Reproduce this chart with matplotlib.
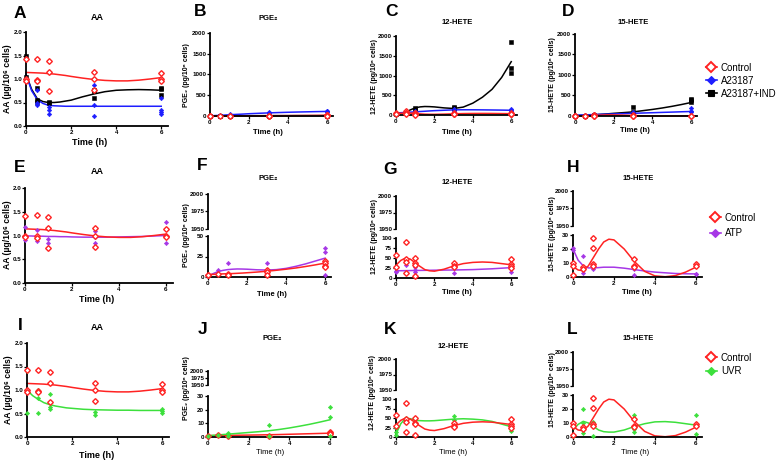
import matplotlib
matplotlib.use('Agg')
import matplotlib.pyplot as plt
from matplotlib.lines import Line2D
from matplotlib.ticker import FormatStrFormatter

plt.rcParams['font.family'] = ['Liberation Sans', 'DejaVu Sans']

W, H = 780, 463

# ---- data ----
# time grid at which the fitted curves were read
T = [0, 0.25, 0.5, 0.75, 1, 1.25, 1.5, 1.75, 2, 2.5, 3, 3.5, 4, 4.5, 5, 5.5, 6]

# AA (ug/10^6 cells)
aa_ctrl_t = [0, 0, 0, 0.5, 0.5, 0.5, 1, 1, 1, 3, 3, 3, 6, 6, 6]
aa_ctrl_v = [1.42, 1.0, 0.96, 1.43, 0.98, 0.95, 1.38, 1.15, 0.74, 1.15, 1.0, 0.76, 1.13, 0.99, 0.96]
aa_ctrl_fit = [1.14, 1.135, 1.13, 1.125, 1.115, 1.105, 1.09, 1.075, 1.055, 1.02, 0.99, 0.97, 0.96, 0.96, 0.975, 1.0, 1.03]
aa_a23_t = [0, 0.5, 0.5, 0.5, 1, 1, 1, 3, 3, 3, 6, 6, 6, 6]
aa_a23_v = [1.0, 0.76, 0.5, 0.44, 0.4, 0.35, 0.25, 0.87, 0.44, 0.21, 0.59, 0.33, 0.29, 0.25]
aa_a23_fit = [1.1, 0.75, 0.56, 0.48, 0.44, 0.43, 0.425, 0.42, 0.42, 0.42, 0.42, 0.42, 0.42, 0.42, 0.42, 0.42, 0.42]
aa_ind_t = [0, 0, 0.5, 0.5, 0.5, 1, 1, 3, 3, 3, 6, 6, 6]
aa_ind_v = [1.5, 1.05, 0.8, 0.55, 0.52, 0.51, 0.49, 0.77, 0.74, 0.6, 0.8, 0.78, 0.67]
aa_ind_fit = [1.1, 0.78, 0.58, 0.52, 0.5, 0.5, 0.51, 0.53, 0.55, 0.62, 0.68, 0.73, 0.76, 0.77, 0.775, 0.77, 0.76]
aa_atp_t = [0, 0, 0, 0.5, 0.5, 0.5, 1, 1, 3, 3, 3, 6, 6, 6]
aa_atp_v = [1.17, 1.0, 0.9, 1.12, 0.95, 0.88, 0.93, 0.84, 1.1, 0.96, 0.85, 1.28, 1.0, 0.85]
aa_atp_fit = [0.99, 0.99, 0.985, 0.985, 0.98, 0.98, 0.975, 0.975, 0.97, 0.965, 0.965, 0.965, 0.97, 0.975, 0.98, 0.99, 1.0]
aa_uvr_t = [0, 0, 0, 0.5, 0.5, 0.5, 1, 1, 1, 3, 3, 3, 6, 6, 6]
aa_uvr_v = [1.41, 1.0, 0.51, 1.0, 0.84, 0.52, 0.91, 0.63, 0.59, 0.77, 0.54, 0.47, 0.6, 0.56, 0.51]
aa_uvr_fit = [1.0, 0.88, 0.8, 0.73, 0.69, 0.66, 0.64, 0.62, 0.61, 0.59, 0.58, 0.575, 0.57, 0.57, 0.565, 0.565, 0.565]

# PGE2 (pg/10^6 cells)
pge_ctrl_t = [0, 0, 0.5, 1, 1, 3, 3, 3, 6, 6, 6, 6]
pge_ctrl_v = [3, 2, 4, 4, 3, 8, 6, 3, 20, 17, 13, 12]
pge_ctrl_fit = [3, 3.2, 3.5, 3.8, 4, 4.2, 4.5, 4.8, 5.2, 6, 7, 8.2, 9.5, 11, 12.8, 14.8, 17]
pge_a23_t = [0, 0.5, 1, 1, 3, 3, 6, 6, 6]
pge_a23_v = [5, 15, 40, 25, 90, 70, 130, 110, 90]
pge_a23_fit = [5, 10, 15, 22, 30, 36, 42, 48, 55, 65, 75, 83, 90, 96, 101, 106, 110]
pge_ind_t = [0, 0.5, 1, 3, 6]
pge_ind_v = [5, 5, 10, 8, 10]
pge_ind_fit = [5, 5, 5, 5, 6, 6, 6, 6, 7, 7, 8, 8, 8, 9, 9, 9, 10]
pge_atp_t = [0, 0.5, 1, 3, 6, 6, 6, 6]
pge_atp_v = [1, 8, 17, 17, 35, 30, 20, 3]
pge_atp_fit = [1, 4, 6.5, 8, 9, 9.5, 9.8, 9.7, 9.5, 8.8, 8.5, 9, 10.5, 13, 16, 19.5, 23]
pge_ctrl2_t = [0, 0.5, 1, 3, 6, 6, 6]
pge_ctrl2_v = [1, 1.5, 1, 1, 4, 3, 2]
pge_ctrl2_fit = [1.0, 1.05, 1.1, 1.15, 1.2, 1.25, 1.3, 1.35, 1.4, 1.5, 1.65, 1.8, 2.0, 2.2, 2.4, 2.6, 2.8]
pge_uvr_t = [0, 0.5, 1, 1, 1, 3, 3, 6, 6, 6]
pge_uvr_v = [1, 1.5, 3, 2, 1, 8.5, 1, 22, 15, 1]
pge_uvr_fit = [1, 1.2, 1.5, 1.8, 2.1, 2.4, 2.7, 3, 3.3, 3.9, 4.6, 5.5, 6.6, 7.9, 9.3, 10.9, 12.6]

# 12-HETE (pg/10^6 cells)
h12_ctrl_t = [0, 0, 0.5, 0.5, 0.5, 0.5, 1, 1, 1, 1, 3, 3, 3, 6, 6, 6, 6]
h12_ctrl_v = [58, 28, 90, 47, 40, 13, 50, 38, 33, 5, 38, 30, 27, 47, 35, 30, 25]
h12_ctrl_fit = [32, 44, 50, 47, 38, 29, 21, 18, 17, 22, 30, 36, 39, 40, 39, 36, 33]
h12_a23_t = [0, 0.5, 1, 1, 3, 3, 6, 6, 6]
h12_a23_v = [50, 60, 100, 60, 140, 110, 160, 120, 100]
h12_a23_fit = [50, 58, 65, 72, 80, 88, 95, 103, 110, 120, 130, 132, 132, 130, 127, 124, 120]
h12_ind_t = [0, 0.5, 0.5, 1, 1, 3, 3, 6, 6, 6]
h12_ind_v = [30, 60, 40, 170, 125, 210, 165, 1850, 1180, 1060]
h12_ind_fit = [30, 40, 70, 130, 180, 205, 215, 212, 205, 180, 165, 200, 300, 450, 650, 950, 1350]
h12_atp_t = [0, 0, 0.5, 0.5, 0.5, 1, 1, 1, 3, 6, 6, 6]
h12_atp_v = [18, 15, 33, 15, 12, 28, 20, 15, 13, 33, 25, 15]
h12_atp_fit = [18, 18.2, 18.4, 18.6, 18.8, 19, 19.2, 19.3, 19.5, 19.8, 20, 20.5, 21, 22, 23, 24.5, 26]
h12_uvr_t = [0, 0, 0, 0.5, 0.5, 1, 1, 1, 3, 3, 3, 6, 6, 6]
h12_uvr_v = [24, 13, 4, 51, 44, 51, 47, 40, 55, 44, 27, 34, 22, 15]
h12_uvr_fit = [8, 35, 50, 48, 44, 43, 42.5, 42.5, 43, 45, 47, 48, 47, 45, 41, 34, 27]

# 15-HETE (pg/10^6 cells)
h15_ctrl_t = [0, 0, 0, 0.5, 0.5, 1, 1, 1, 1, 3, 3, 3, 6, 6]
h15_ctrl_v = [10, 8, 1.5, 7, 6, 28, 21, 9, 8, 13, 8, 7, 9, 8]
h15_ctrl_fit = [7.5, 5, 4.5, 8, 14, 20, 25, 27, 26.5, 20, 11, 4, 0.8, 0.2, 1, 3.5, 7]
h15_a23_t = [0, 0.5, 1, 3, 3, 6, 6, 6]
h15_a23_v = [20, 30, 40, 100, 60, 200, 120, 100]
h15_a23_fit = [20, 24, 28, 31, 35, 39, 43, 46, 50, 58, 65, 73, 80, 88, 95, 103, 110]
h15_ind_t = [0, 0.5, 1, 3, 3, 6, 6, 6]
h15_ind_v = [10, 10, 30, 230, 100, 420, 380, 340]
h15_ind_fit = [5, 10, 15, 22, 30, 38, 46, 55, 65, 82, 100, 130, 160, 195, 235, 280, 330]
h15_atp_t = [0, 0, 0.5, 0.5, 0.5, 1, 1, 1, 3, 3, 6, 6]
h15_atp_v = [21, 19, 15, 5, 3, 8, 7, 6, 6, 1.5, 2.5, 2]
h15_atp_fit = [20, 12, 8, 6.5, 6.5, 6.7, 7, 7, 7, 6.3, 5.3, 4.3, 3.5, 3, 2.5, 2.3, 2.2]
h15_uvr_t = [0, 0, 0.5, 0.5, 0.5, 1, 1, 1, 3, 3, 3, 6, 6, 6]
h15_uvr_v = [8, 0.5, 20, 10, 3, 11, 9, 0.5, 16, 6, 3.6, 15.6, 7.7, 2]
h15_uvr_fit = [5, 9, 11.2, 10, 7.5, 5, 3.8, 3.5, 3.5, 5, 7.5, 9.5, 10.8, 11, 10.5, 9.5, 8.5]

# ---- styles ----
RED, BLUE, BLACK, PURPLE, GREEN = '#FF2222', '#1E1EFF', '#000000', '#A637E6', '#3CE03C'
STY = {
    'ctrl': dict(color=RED, marker='D', ms=2.9, mfc='white', mew=1.0),
    'a23': dict(color=BLUE, marker='D', ms=2.3, mew=0.4),
    'ind': dict(color=BLACK, marker='s', ms=2.4, mew=0.4),
    'atp': dict(color=PURPLE, marker='D', ms=2.2, mew=0.4),
    'uvr': dict(color=GREEN, marker='D', ms=2.2, mew=0.4),
}

fig = plt.figure(figsize=(W / 100, H / 100), dpi=100)


def px_axes(x0, y0, x1, y1):
    return fig.add_axes([x0 / W, 1 - y1 / H, (x1 - x0) / W, (y1 - y0) / H])


def style(ax, xaxis=True):
    for s in ['top', 'right']:
        ax.spines[s].set_visible(False)
    ax.spines['left'].set_linewidth(1.3)
    ax.spines['bottom'].set_linewidth(1.3)
    ax.tick_params(direction='out', length=2.0, width=0.9, labelsize=4.5, pad=0.8)
    for lab in ax.get_xticklabels() + ax.get_yticklabels():
        lab.set_fontweight('bold')
    ax.set_xlim(0, 6.3)
    ax.set_xticks([0, 2, 4, 6])
    if not xaxis:
        ax.spines['bottom'].set_visible(False)
        ax.tick_params(axis='x', bottom=False, labelbottom=False)
    ax.patch.set_alpha(0)


def series(ax, key, t, v, fit, zo=2):
    st = STY[key]
    ax.plot(T, fit, color=st['color'], lw=1.1, zorder=zo, clip_on=False)
    ax.plot(t, v, ls='none', marker=st['marker'], ms=st['ms'], color=st['color'],
            mfc=st.get('mfc', st['color']), mec=st['color'], mew=st['mew'],
            zorder=zo + 1, clip_on=False)


def full_panel(box, ymax, yticks):
    ax = px_axes(*box)
    ax.set_ylim(0, ymax)
    ax.set_yticks(yticks)
    style(ax)
    return ax


def broken_panel(x0, x1, top, brk_hi, brk_lo, bottom, ymax, yticks):
    up = px_axes(x0, top, x1, brk_hi)
    up.set_ylim(1950, 2000)
    up.set_yticks([1950, 1975, 2000])
    style(up, xaxis=False)
    lo = px_axes(x0, brk_lo, x1, bottom)
    lo.set_ylim(0, ymax)
    lo.set_yticks(yticks)
    style(lo)
    return lo


def ftext(x, y, s, **kw):
    fig.text(x / W, 1 - y / H, s, ha='center', va='center', **kw)


# ---- row 1 ----
axA = full_panel((26, 32, 168, 126), 2.0, [0, 0.5, 1.0, 1.5, 2.0])
axA.yaxis.set_major_formatter(FormatStrFormatter('%.1f'))
series(axA, 'ind', aa_ind_t, aa_ind_v, aa_ind_fit)
series(axA, 'a23', aa_a23_t, aa_a23_v, aa_a23_fit)
series(axA, 'ctrl', aa_ctrl_t, aa_ctrl_v, aa_ctrl_fit)

big = [0, 500, 1000, 1500, 2000]
axB = full_panel((210, 33, 333, 116), 2000, big)
series(axB, 'ind', pge_ind_t, pge_ind_v, pge_ind_fit)
series(axB, 'a23', pge_a23_t, pge_a23_v, pge_a23_fit)
series(axB, 'ctrl', pge_ctrl_t, pge_ctrl_v, pge_ctrl_fit)

axC = full_panel((396, 36, 517, 115), 2000, big)
series(axC, 'ind', h12_ind_t, h12_ind_v, h12_ind_fit)
series(axC, 'a23', h12_a23_t, h12_a23_v, h12_a23_fit)
series(axC, 'ctrl', h12_ctrl_t, h12_ctrl_v, h12_ctrl_fit)

axD = full_panel((575, 34, 697, 116), 2000, big)
series(axD, 'ind', h15_ind_t, h15_ind_v, h15_ind_fit)
series(axD, 'a23', h15_a23_t, h15_a23_v, h15_a23_fit)
series(axD, 'ctrl', h15_ctrl_t, h15_ctrl_v, h15_ctrl_fit)

# ---- row 2 ----
axE = full_panel((25, 188, 173, 283), 2.0, [0, 0.5, 1.0, 1.5, 2.0])
axE.yaxis.set_major_formatter(FormatStrFormatter('%.1f'))
series(axE, 'atp', aa_atp_t, aa_atp_v, aa_atp_fit)
series(axE, 'ctrl', aa_ctrl_t, aa_ctrl_v, aa_ctrl_fit)

axF = broken_panel(208, 331, 194, 229, 236, 277, 50, [0, 25, 50])
series(axF, 'atp', pge_atp_t, pge_atp_v, pge_atp_fit)
series(axF, 'ctrl', pge_ctrl_t, pge_ctrl_v, pge_ctrl_fit)

axG = broken_panel(396, 517, 196, 229, 238, 278, 100, [0, 25, 50, 75, 100])
series(axG, 'atp', h12_atp_t, h12_atp_v, h12_atp_fit)
series(axG, 'ctrl', h12_ctrl_t, h12_ctrl_v, h12_ctrl_fit)

axH = broken_panel(573, 702, 191, 226, 235, 277, 30, [0, 10, 20, 30])
series(axH, 'atp', h15_atp_t, h15_atp_v, h15_atp_fit)
series(axH, 'ctrl', h15_ctrl_t, h15_ctrl_v, h15_ctrl_fit)

# ---- row 3 ----
axI = full_panel((27, 343, 169, 437), 2.0, [0, 0.5, 1.0, 1.5, 2.0])
axI.yaxis.set_major_formatter(FormatStrFormatter('%.1f'))
series(axI, 'uvr', aa_uvr_t, aa_uvr_v, aa_uvr_fit)
series(axI, 'ctrl', aa_ctrl_t, aa_ctrl_v, aa_ctrl_fit)

axJ = broken_panel(208, 336, 371, 385, 396, 437, 30, [0, 10, 20, 30])
series(axJ, 'ctrl', pge_ctrl2_t, pge_ctrl2_v, pge_ctrl2_fit)
series(axJ, 'uvr', pge_uvr_t, pge_uvr_v, pge_uvr_fit)

axK = broken_panel(396, 517, 359, 390, 399, 437, 100, [0, 25, 50, 75, 100])
series(axK, 'uvr', h12_uvr_t, h12_uvr_v, h12_uvr_fit)
series(axK, 'ctrl', h12_ctrl_t, h12_ctrl_v, h12_ctrl_fit)

axL = broken_panel(573, 702, 352, 386, 395, 437, 30, [0, 10, 20, 30])
series(axL, 'uvr', h15_uvr_t, h15_uvr_v, h15_uvr_fit)
series(axL, 'ctrl', h15_ctrl_t, h15_ctrl_v, h15_ctrl_fit)

# ---- texts ----
letters = [('A', 20, 13), ('B', 200, 11), ('C', 392, 12), ('D', 568, 11),
           ('E', 20, 167), ('F', 202, 165), ('G', 390, 169), ('H', 573, 168),
           ('I', 20, 325), ('J', 203, 330), ('K', 390, 330), ('L', 572, 330)]
for s, x, y in letters:
    ftext(x, y, s, fontsize=12.5, fontweight='bold')

titles = [('AA', 97, 17, 6.5), ('PGE₂', 268, 19, 5.5), ('12-HETE', 457, 22, 5.5), ('15-HETE', 633, 23, 5.5),
          ('AA', 97, 171, 6.5), ('PGE₂', 268, 179, 5.5), ('12-HETE', 457, 182, 5.5), ('15-HETE', 638, 178, 5.5),
          ('AA', 97, 327, 6.5), ('PGE₂', 272, 338, 5.5), ('12-HETE', 453, 347, 5.5), ('15-HETE', 638, 338, 5.5)]
for s, x, y, fs in titles:
    ftext(x, y, s, fontsize=fs, fontweight='bold')

xlabels = [(90, 143, 6.5, 'bold'), (268, 133, 5.5, 'bold'), (457, 132, 5.5, 'bold'), (635, 131, 5.5, 'bold'),
           (97, 300, 6.5, 'bold'), (272, 294, 5.5, 'bold'), (457, 293, 5.5, 'bold'), (637, 293, 5.5, 'bold'),
           (97, 455, 6.5, 'bold'), (270, 453, 5.5, 'normal'), (453, 452, 5.5, 'normal'), (635, 453, 5.5, 'normal')]
for x, y, fs, fw in xlabels:
    ftext(x, y, 'Time (h)', fontsize=fs, fontweight=fw)

aa_lab = 'AA (µg/10⁶ cells)'
pge_lab = 'PGE₂ (pg/10⁶ cells)'
h12_lab = '12-HETE (pg/10⁶ cells)'
h15_lab = '15-HETE (pg/10⁶ cells)'
ylabels = [(aa_lab, 8, 79, 6.2), (pge_lab, 187, 75, 5.0), (h12_lab, 375, 76, 5.0), (h15_lab, 553, 75, 5.0),
           (aa_lab, 8, 235, 6.2), (pge_lab, 187, 235, 5.0), (h12_lab, 374, 237, 5.0), (h15_lab, 553, 234, 5.0),
           (aa_lab, 9, 390, 6.2), (pge_lab, 187, 388, 5.0), (h12_lab, 373, 392, 5.0), (h15_lab, 552, 390, 5.0)]
for s, x, y, fs in ylabels:
    ftext(x, y, s, fontsize=fs, fontweight='bold', rotation=90)


def legend(entries, x, y, spacing):
    handles = [Line2D([], [], color=STY[k]['color'], marker=STY[k]['marker'], ms=STY[k]['ms'] + 2.0,
                      mfc=STY[k].get('mfc', STY[k]['color']), mec=STY[k]['color'],
                      mew=STY[k]['mew'] + 0.4, lw=1.2) for k, _ in entries]
    fig.legend(handles, [lab for _, lab in entries], loc='upper left',
               bbox_to_anchor=(x / W, 1 - y / H), frameon=False, fontsize=7,
               handlelength=1.1, handletextpad=0.45, labelspacing=spacing, borderpad=0)


legend([('ctrl', 'Control'), ('a23', 'A23187'), ('ind', 'A23187+IND')], 701, 58, 0.3)
legend([('ctrl', 'Control'), ('atp', 'ATP')], 705, 208, 0.55)
legend([('ctrl', 'Control'), ('uvr', 'UVR')], 701, 348, 0.35)

fig.savefig('out.png', dpi=100)
